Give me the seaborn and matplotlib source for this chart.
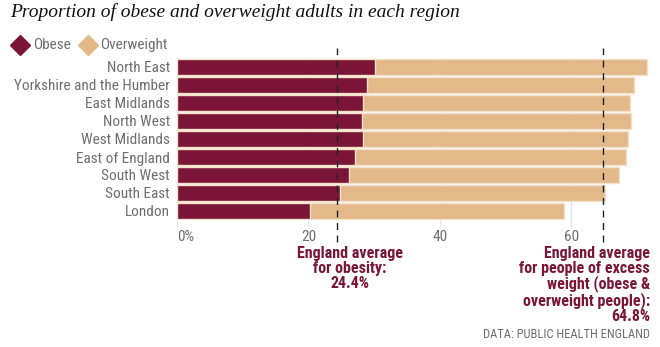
import matplotlib
matplotlib.use("Agg")
import matplotlib.pyplot as plt
from matplotlib.lines import Line2D
import seaborn as sns
import pandas as pd

regions = ["North East", "Yorkshire and the Humber", "East Midlands", "North West",
           "West Midlands", "East of England", "South West", "South East", "London"]
obese = [30.1, 28.9, 28.3, 28.1, 28.3, 27.1, 26.2, 24.8, 20.3]
excess_weight = [71.6, 69.6, 69.0, 69.1, 68.6, 68.3, 67.3, 65.1, 58.9]
x_ticks = [0, 20, 40, 60]
x_tick_labels = ["0%", "20", "40", "60"]
avg_obesity = 24.4
avg_excess = 64.8

OBESE = "#7b1538"
OVER = "#e3b98a"
GREY = "#6e6e6e"

sns.set_theme(style="white")
SANS = ["Roboto Condensed", "Archivo Narrow", "Liberation Sans Narrow", "DejaVu Sans"]
SERIF = ["Liberation Serif", "DejaVu Serif"]
plt.rcParams["font.family"] = SANS

df = pd.DataFrame({"region": regions, "obese": obese, "total": excess_weight})

fig = plt.figure(figsize=(6.6, 3.47), dpi=100)
ax = fig.add_axes([177 / 660, 1 - 220 / 347, (650 - 177) / 660, (220 - 58) / 347])

sns.barplot(data=df, y="region", x="total", color=OVER, orient="h", width=0.9,
            edgecolor="#f3e0c9", linewidth=1, saturation=1, ax=ax, zorder=2)
sns.barplot(data=df, y="region", x="obese", color=OBESE, orient="h", width=0.9,
            edgecolor="#f3e0c9", linewidth=1, saturation=1, ax=ax, zorder=3)

ax.set_xlim(0, 72)
ax.set_ylim(len(regions) - 0.5, -0.5)
ax.set_xlabel("")
ax.set_ylabel("")
for s in ax.spines.values():
    s.set_visible(False)

ax.set_xticks(x_ticks)
ax.set_xticklabels(x_tick_labels)
ax.xaxis.grid(True, color="#e3e3e3", linewidth=1, zorder=0)
ax.set_axisbelow(True)
ax.tick_params(axis="x", length=5, width=1, color="#e3e3e3", labelsize=11,
               labelcolor=GREY, pad=2, bottom=True)
ax.get_xticklabels()[0].set_horizontalalignment("left")
ax.tick_params(axis="y", length=0, labelsize=11, labelcolor=GREY, pad=5)

# England average reference lines
for v in (avg_obesity, avg_excess):
    ax.axvline(v, ymin=-0.136, ymax=1.062, color="#222222", linewidth=1,
               linestyle=(0, (5, 4)), clip_on=False, zorder=4)

note_kw = dict(color=OBESE, fontsize=11.5, fontweight="bold", linespacing=0.98,
               va="top")
fig.text(350 / 660, 1 - 246 / 347,
         "England average\nfor obesity:\n" + f"{avg_obesity}%",
         ha="center", multialignment="center", **note_kw)
fig.text(650 / 660, 1 - 246 / 347,
         "England average\nfor people of excess\nweight (obese &\noverweight people):\n"
         + f"{avg_excess}%",
         ha="right", multialignment="right", **note_kw)
fig.text(650 / 660, 1 - 334 / 347, "DATA: PUBLIC HEALTH ENGLAND", ha="right",
         va="center", color=GREY, fontsize=9)

# Title
fig.text(10 / 660, 1 - 17 / 347, "Proportion of obese and overweight adults in each region",
         family=SERIF, style="italic", fontsize=14, color="#111111",
         va="baseline", ha="left")

# Legend
for xpix, col in ((20, OBESE), (88, OVER)):
    fig.add_artist(Line2D([xpix / 660], [1 - 45 / 347], marker="D", markersize=10.5,
                          color=col, linestyle="none", transform=fig.transFigure))
fig.text(33 / 660, 1 - 45 / 347, "Obese", color=GREY, fontsize=11, va="center")
fig.text(100 / 660, 1 - 45 / 347, "Overweight", color=GREY, fontsize=11, va="center")

fig.savefig("out.png", dpi=100)
